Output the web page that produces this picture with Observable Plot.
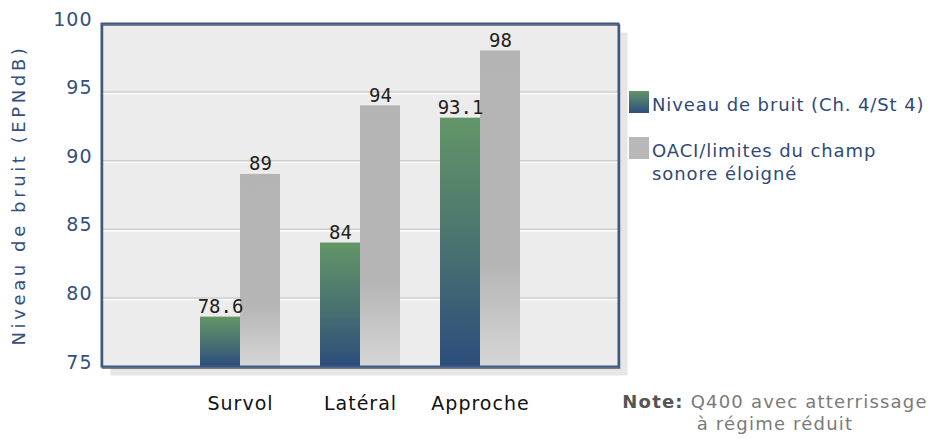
<!DOCTYPE html>
<html>
<head>
<meta charset="utf-8">
<script src="https://cdn.jsdelivr.net/npm/d3@7"></script>
<script src="https://cdn.jsdelivr.net/npm/@observablehq/plot@0.6"></script>
<style>
  html, body { margin: 0; padding: 0; background: #ffffff; }
  #wrap { position: relative; width: 933px; height: 439px; overflow: hidden; font-family: "DejaVu Sans", sans-serif; }
  #chart { position: absolute; left: 0; top: 0; }
  #chart svg [aria-label="y-axis label"] text { font-size: 18px; letter-spacing: 3.6px; }
  #chart svg [aria-label="y-axis tick label"] text { letter-spacing: 1px; }
  #chart svg [aria-label="x-axis tick label"] text { letter-spacing: 1px; }
  .legend { position: absolute; left: 629px; top: 93px; color: #2f4a78; font-size: 18px; letter-spacing: 0.9px; line-height: 23px; }
  .legend .item { position: relative; padding-left: 23px; margin-bottom: 23px; white-space: nowrap; }
  .legend .sw { position: absolute; left: 0; top: -2px; width: 20px; height: 22px; }
  .note { position: absolute; left: 600px; width: 350px; top: 391px; text-align: center; color: #7a7a7a; font-size: 18px; letter-spacing: 1.2px; line-height: 22px; }
  .note b { color: #555555; }
</style>
</head>
<body>
<div id="wrap">
  <div id="chart"></div>
  <div class="legend" id="legend"></div>
  <div class="note"><b>Note:</b> Q400 avec atterrissage<br>à régime réduit</div>
</div>
<script>
// Noise levels per certification point (EPNdB)
const categories = ["Survol", "Latéral", "Approche"];
const niveau = [78.6, 84, 93.1];     // Niveau de bruit (Ch. 4/St 4)
const limites = [89, 94, 98];        // OACI/limites du champ sonore éloigné
const yTicks = [75, 80, 85, 90, 95, 100];
const seriesNames = ["Niveau de bruit (Ch. 4/St 4)", "OACI/limites du champ sonore éloigné"];
const yLabel = "Niveau de bruit (EPNdB)";

const rows = categories.map((c, i) => ({cat: c, niveau: niveau[i], limite: limites[i]}));
const fmt = v => String(v);
const blue = "#34507f";

const plot = Plot.plot({
  width: 933,
  height: 439,
  marginTop: 23,
  marginBottom: 73,
  marginLeft: 101,
  marginRight: 315,
  style: {background: "transparent", fontFamily: "DejaVu Sans, sans-serif"},
  x: {domain: categories, paddingInner: 1 / 3, paddingOuter: 0.82, axis: null},
  y: {domain: [75, 100], axis: null},
  marks: [
    // drop shadow and plot background
    Plot.frame({fill: "#e6e6e6", dx: 9, dy: 9}),
    Plot.frame({fill: "#ececec"}),
    // embossed grid lines
    Plot.gridY(yTicks.filter(t => t > 75 && t < 100), {stroke: "#ffffff", strokeOpacity: 1, strokeWidth: 1.5, dy: 1.5}),
    Plot.gridY(yTicks.filter(t => t > 75 && t < 100), {stroke: "#cfcfcf", strokeOpacity: 1, strokeWidth: 1.5}),
    // bars
    Plot.barY(rows, {x: "cat", y1: 75, y2: "niveau", fill: "url(#gradNiveau)", insetRight: 40}),
    Plot.barY(rows, {x: "cat", y1: 75, y2: "limite", fill: "url(#gradLimite)", insetLeft: 40}),
    // value labels
    Plot.text(rows, {x: "cat", y: "niveau", text: d => fmt(d.niveau), dx: -20, dy: -4, lineAnchor: "bottom",
      fontFamily: "DejaVu Sans Mono, monospace", fontSize: 19, fill: "#222"}),
    Plot.text(rows, {x: "cat", y: "limite", text: d => fmt(d.limite), dx: 20, dy: -4, lineAnchor: "bottom",
      fontFamily: "DejaVu Sans Mono, monospace", fontSize: 19, fill: "#222"}),
    // border
    Plot.frame({stroke: "#5a5a5a", strokeWidth: 1.5, dx: 1, dy: 1.5}),
    Plot.frame({stroke: "#3b5a8c", strokeWidth: 2}),
    // axes
    Plot.axisY({ticks: yTicks, tickSize: 0, tickPadding: 9, fontSize: 19, color: blue, dy: -4,
      label: yLabel, labelAnchor: "center", labelArrow: "none", labelOffset: 89}),
    Plot.axisX({tickSize: 0, tickPadding: 30, fontSize: 19, color: "#111", label: null})
  ]
});

// gradients used by the bars
const svg = d3.select(plot);
const defs = svg.insert("defs", ":first-child");
const g1 = defs.append("linearGradient").attr("id", "gradNiveau").attr("x1", 0).attr("y1", 0).attr("x2", 0).attr("y2", 1);
g1.append("stop").attr("offset", "0%").attr("stop-color", "#639667");
g1.append("stop").attr("offset", "50%").attr("stop-color", "#4a7470");
g1.append("stop").attr("offset", "100%").attr("stop-color", "#2d4d7c");
const g2 = defs.append("linearGradient").attr("id", "gradLimite").attr("x1", 0).attr("y1", 0).attr("x2", 0).attr("y2", 1);
g2.append("stop").attr("offset", "0%").attr("stop-color", "#b4b4b4");
g2.append("stop").attr("offset", "68%").attr("stop-color", "#b5b5b5");
g2.append("stop").attr("offset", "100%").attr("stop-color", "#d6d6d6");

document.getElementById("chart").appendChild(plot);

// legend
const legend = document.getElementById("legend");
const swatches = ["linear-gradient(#639667, #2d4d7c)", "#b8b8b8"];
const labelsHtml = [seriesNames[0], "OACI/limites du champ<br>sonore éloigné"];
seriesNames.forEach((name, i) => {
  const item = document.createElement("div");
  item.className = "item";
  item.innerHTML = `<span class="sw" style="background:${swatches[i]}"></span>${labelsHtml[i]}`;
  legend.appendChild(item);
});
</script>
</body>
</html>
